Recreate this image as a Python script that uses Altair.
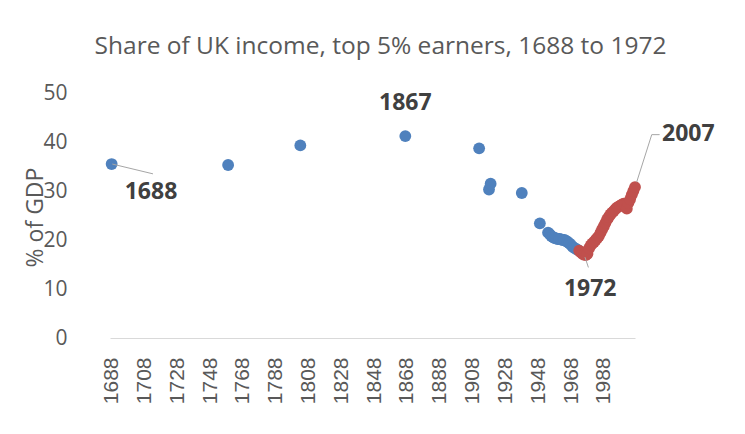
import altair as alt
import pandas as pd

# ---- data ----
blue_years = [1688, 1759, 1803, 1867, 1912, 1918, 1919, 1938, 1949,
              1954, 1955, 1956, 1957, 1958, 1959, 1960, 1961, 1962, 1963,
              1964, 1965, 1966, 1967, 1968, 1969, 1970, 1971, 1972]
blue_values = [35.5, 35.3, 39.3, 41.2, 38.7, 30.3, 31.5, 29.6, 23.4,
               21.5, 21.2, 20.8, 20.6, 20.4, 20.3, 20.2, 20.2, 20.1, 20.0,
               20.0, 19.8, 19.6, 19.3, 19.0, 18.6, 18.4, 18.2, 18.0]

red_years = list(range(1973, 2008))
red_values = [17.8, 17.5, 17.2, 17.0, 16.9, 17.2, 18.3, 18.9, 19.3, 19.6,
              20.0, 20.4, 20.8, 21.5, 22.2, 22.8, 23.5, 24.2, 24.7, 25.2,
              25.6, 25.9, 26.3, 26.6, 26.8, 27.0, 27.2, 27.4, 27.2, 26.4,
              27.6, 28.3, 29.2, 30.0, 30.8]

x_ticks = list(range(1688, 1989, 20))
y_ticks = [0, 10, 20, 30, 40, 50]

label_texts = ["1688", "1867", "1972", "2007"]
label_x = [1712, 1867, 1979.7, 2023.5]
label_y = [29.7, 47.9, 10.1, 41.7]
label_align = ["center", "center", "center", "left"]

leader_x = [1688.4, 1976.5, 2008, 2017.2]
leader_y = [35.5, 16.5, 31.8, 41.5]
leader_x2 = [1713.2, 1978.6, 2017.2, 2022]
leader_y2 = [33.5, 14.4, 41.5, 41.5]

title_text = "Share of UK income, top 5% earners, 1688 to 1972"
y_title = "% of GDP"

# ---- tables ----
pts = pd.DataFrame({
    "year": blue_years + red_years,
    "value": blue_values + red_values,
    "series": ["early"] * len(blue_years) + ["late"] * len(red_years),
})
labels = pd.DataFrame({"t": label_texts, "x": label_x, "y": label_y, "a": label_align})
leaders = pd.DataFrame({"x": leader_x, "y": leader_y, "x2": leader_x2, "y2": leader_y2})

xscale = alt.Scale(domain=[1687, 2007], nice=False, zero=False)
yscale = alt.Scale(domain=[0, 50], nice=False)

grey = "#595959"

x_axis = alt.Axis(values=x_ticks, labelAngle=-90, labelAlign="right",
                  labelBaseline="middle", format="d", title=None,
                  ticks=False, grid=False, domainColor="#d9d9d9",
                  domainWidth=1.2, labelFont="Liberation Sans",
                  labelFontSize=21, labelColor=grey, labelPadding=19,
                  labelOverlap=False, labelBound=False)
y_axis = alt.Axis(values=y_ticks, title=y_title, grid=False,
                  ticks=False, domain=False, labelFont="Open Sans",
                  labelFontSize=21, labelColor=grey, labelPadding=43,
                  labelOverlap=False,
                  titleFont="Open Sans", titleFontSize=23,
                  titleFontWeight="normal", titleColor=grey,
                  titleX=-75, titleY=124, titleAngle=-90,
                  titleBaseline="middle", titleAlign="center")

points = alt.Chart(pts).mark_circle(size=140, opacity=1).encode(
    x=alt.X("year:Q", scale=xscale, axis=x_axis),
    y=alt.Y("value:Q", scale=yscale, axis=y_axis),
    color=alt.Color("series:N",
                    scale=alt.Scale(domain=["early", "late"],
                                    range=["#4F81BD", "#C0504D"]),
                    legend=None),
)

rules = alt.Chart(leaders).mark_rule(color="#a6a6a6", strokeWidth=1).encode(
    x=alt.X("x:Q", scale=xscale, axis=x_axis),
    y=alt.Y("y:Q", scale=yscale, axis=y_axis),
    x2="x2:Q", y2="y2:Q",
)

texts_c = alt.Chart(labels[labels.a == "center"]).mark_text(
    font="Open Sans", fontSize=23, fontWeight="bold", color="#404040",
    align="center", baseline="middle",
).encode(x=alt.X("x:Q", scale=xscale, axis=x_axis),
         y=alt.Y("y:Q", scale=yscale, axis=y_axis), text="t:N")

texts_l = alt.Chart(labels[labels.a == "left"]).mark_text(
    font="Open Sans", fontSize=23, fontWeight="bold", color="#404040",
    align="left", baseline="middle",
).encode(x=alt.X("x:Q", scale=xscale, axis=x_axis),
         y=alt.Y("y:Q", scale=yscale, axis=y_axis), text="t:N")

chart = alt.layer(points, rules, texts_c, texts_l).properties(
    width=525,
    height=245,
    background="white",
    title=alt.TitleParams(title_text, font="Open Sans", fontSize=24.5,
                          fontWeight="normal", color=grey, anchor="middle",
                          offset=23, dx=8),
    autosize=alt.AutoSizeParams(type="none"),
    padding={"left": 102, "top": 85, "right": 100, "bottom": 95},
).configure_view(stroke=None)

chart.save("out.html", embed_options={"renderer": "svg", "actions": False})
